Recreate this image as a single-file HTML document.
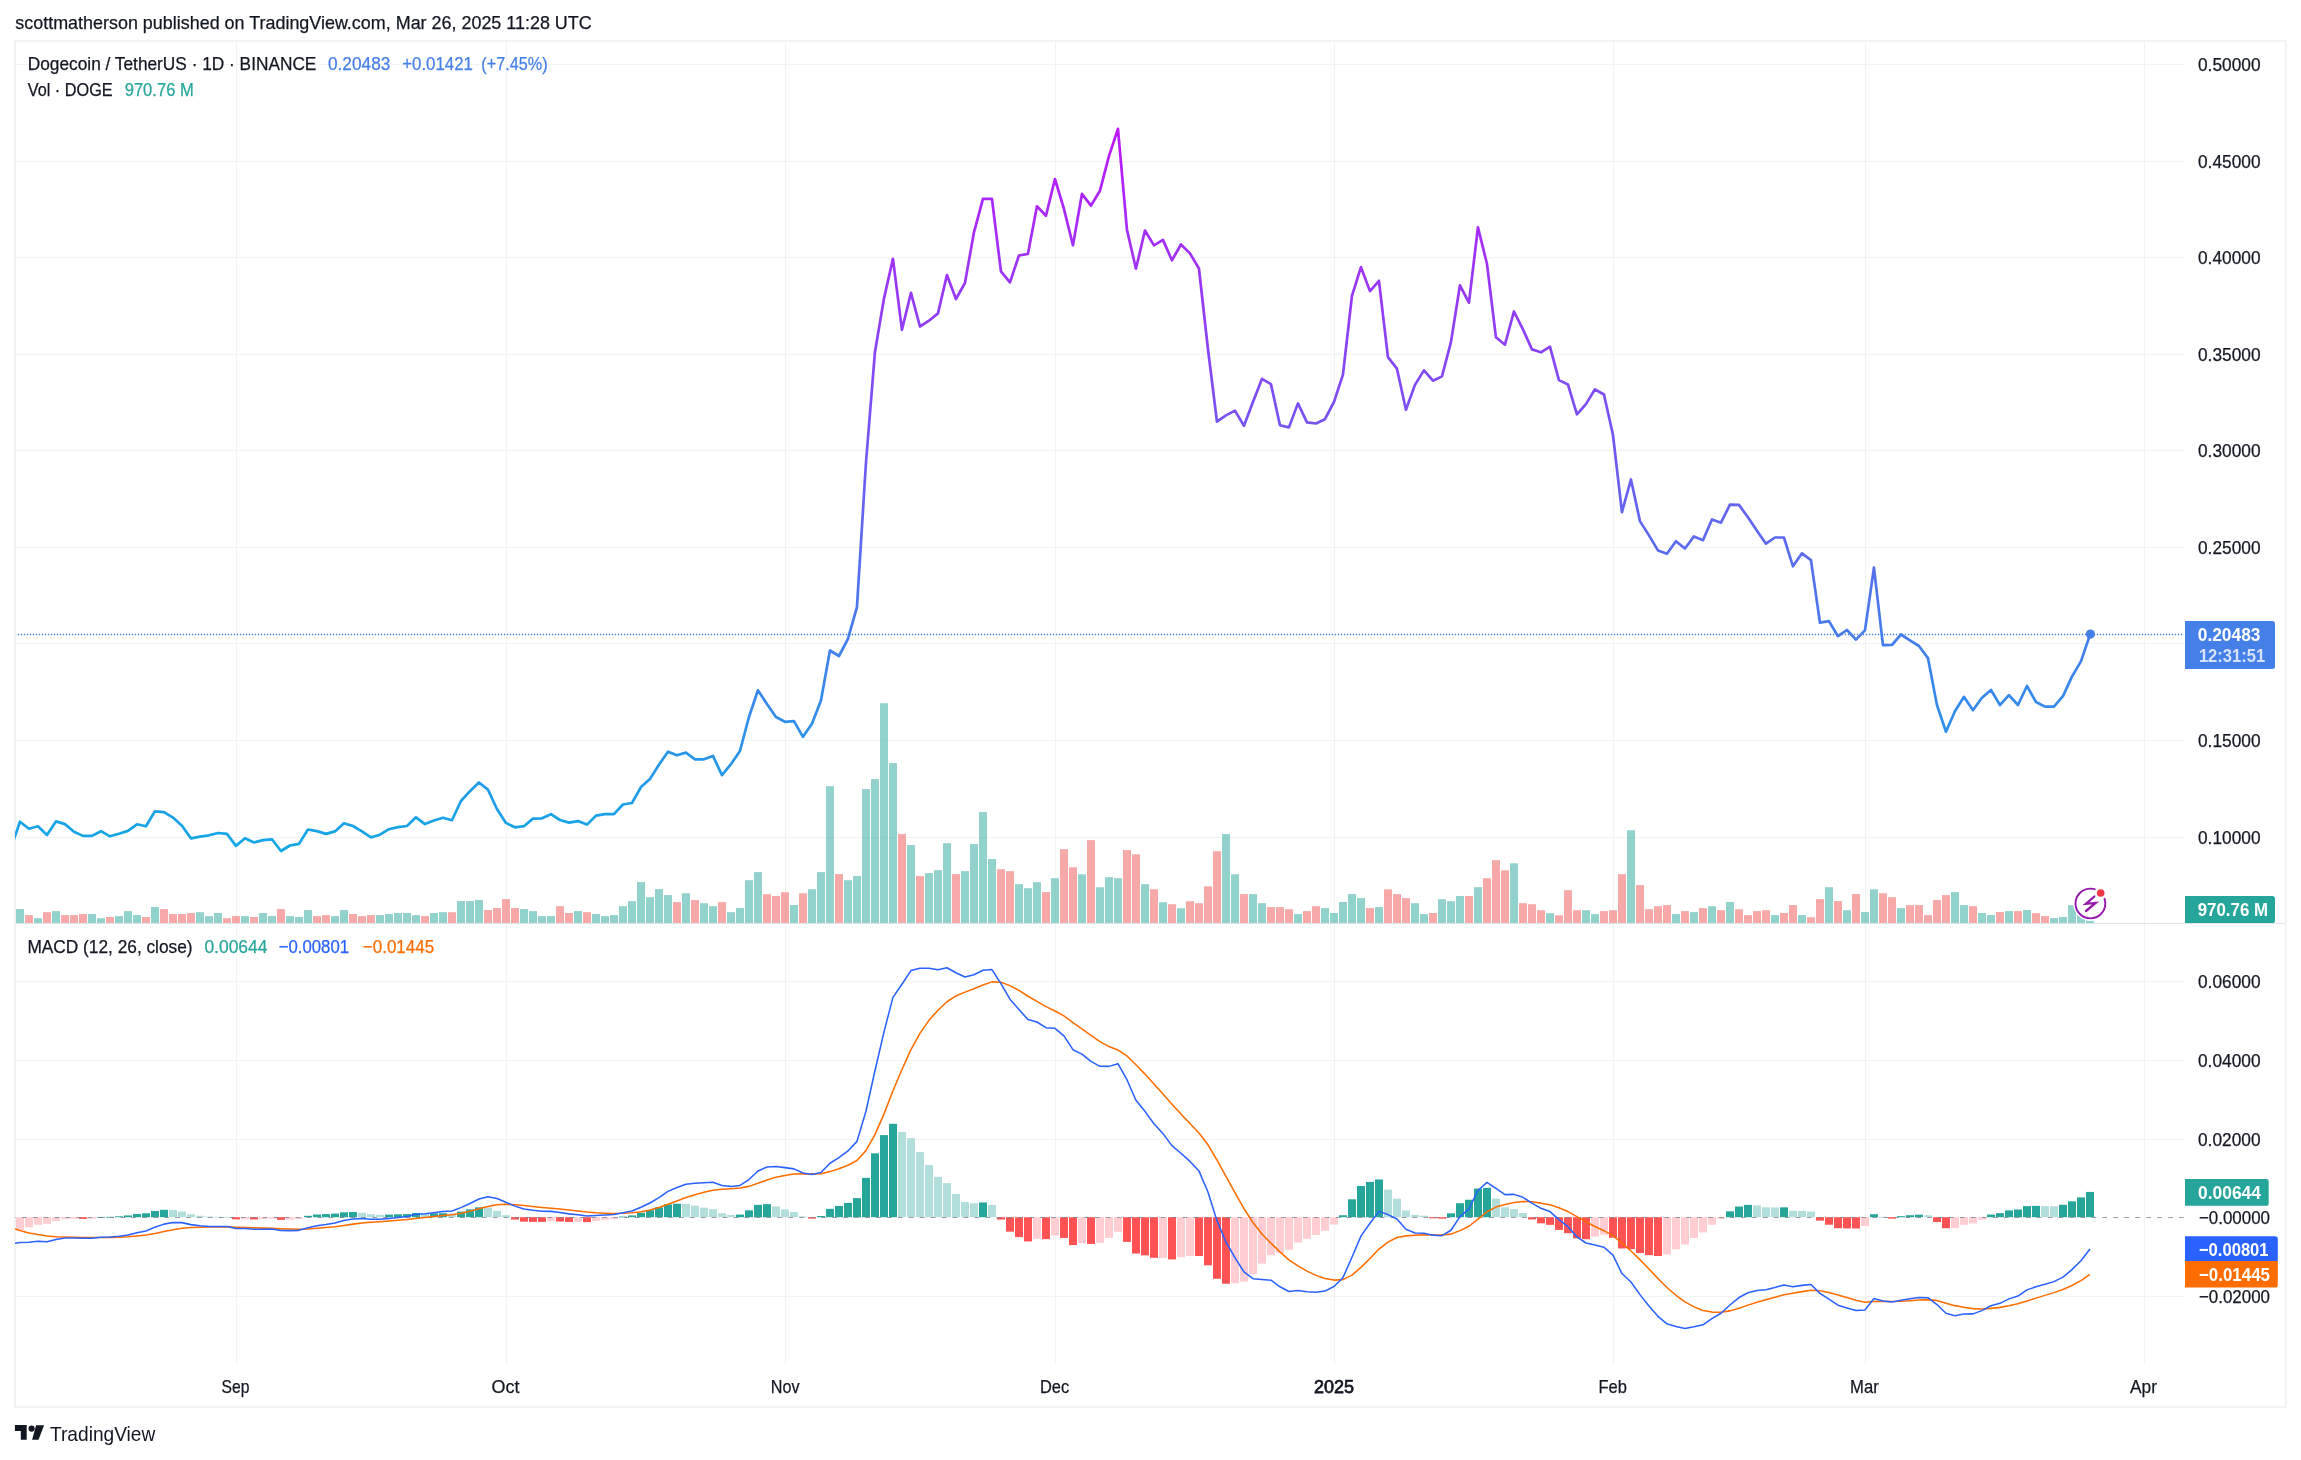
<!DOCTYPE html>
<html><head><meta charset="utf-8"><style>
html,body{margin:0;padding:0;background:#fff;width:2301px;height:1460px;overflow:hidden}
svg{display:block;will-change:transform}
text{font-family:"Liberation Sans", sans-serif;white-space:pre}
</style></head><body>
<svg width="2301" height="1460" viewBox="0 0 2301 1460">
<defs>
<linearGradient id="pg" gradientUnits="userSpaceOnUse" x1="0" y1="129" x2="0" y2="851">
<stop offset="0" stop-color="rgb(190,24,250)"/>
<stop offset="1" stop-color="rgb(18,168,230)"/>
</linearGradient>
<clipPath id="plot"><rect x="15" y="42" width="2170" height="881"/></clipPath>
<clipPath id="plot2"><rect x="15" y="924" width="2170" height="441"/></clipPath>
</defs>
<rect width="2301" height="1460" fill="#fff"/>
<rect x="15" y="41" width="2271" height="1366" fill="none" stroke="#f3f3f3" stroke-width="2"/>
<rect x="236" y="42" width="1" height="1323" fill="#f2f3f3"/>
<rect x="506" y="42" width="1" height="1323" fill="#f2f3f3"/>
<rect x="785" y="42" width="1" height="1323" fill="#f2f3f3"/>
<rect x="1055" y="42" width="1" height="1323" fill="#f2f3f3"/>
<rect x="1334" y="42" width="1" height="1323" fill="#f2f3f3"/>
<rect x="1613" y="42" width="1" height="1323" fill="#f2f3f3"/>
<rect x="1865" y="42" width="1" height="1323" fill="#f2f3f3"/>
<rect x="2144" y="42" width="1" height="1323" fill="#f2f3f3"/>
<rect x="16" y="64" width="2169" height="1" fill="#f2f3f3"/>
<rect x="16" y="161" width="2169" height="1" fill="#f2f3f3"/>
<rect x="16" y="257" width="2169" height="1" fill="#f2f3f3"/>
<rect x="16" y="354" width="2169" height="1" fill="#f2f3f3"/>
<rect x="16" y="450" width="2169" height="1" fill="#f2f3f3"/>
<rect x="16" y="547" width="2169" height="1" fill="#f2f3f3"/>
<rect x="16" y="643" width="2169" height="1" fill="#f2f3f3"/>
<rect x="16" y="740" width="2169" height="1" fill="#f2f3f3"/>
<rect x="16" y="837" width="2169" height="1" fill="#f2f3f3"/>
<rect x="16" y="981" width="2169" height="1" fill="#f2f3f3"/>
<rect x="16" y="1060" width="2169" height="1" fill="#f2f3f3"/>
<rect x="16" y="1139" width="2169" height="1" fill="#f2f3f3"/>
<rect x="16" y="1296" width="2169" height="1" fill="#f2f3f3"/>
<g clip-path="url(#plot)">
<rect x="16" y="909.1" width="8" height="13.9" fill="rgba(38,166,154,0.5)"/>
<rect x="25" y="915.1" width="8" height="7.9" fill="rgba(239,83,80,0.5)"/>
<rect x="34" y="918.2" width="8" height="4.8" fill="rgba(38,166,154,0.5)"/>
<rect x="43" y="912.2" width="8" height="10.8" fill="rgba(239,83,80,0.5)"/>
<rect x="52" y="911.1" width="8" height="11.9" fill="rgba(38,166,154,0.5)"/>
<rect x="61" y="915.1" width="8" height="7.9" fill="rgba(239,83,80,0.5)"/>
<rect x="70" y="915.1" width="8" height="7.9" fill="rgba(239,83,80,0.5)"/>
<rect x="79" y="914.0" width="8" height="9.0" fill="rgba(239,83,80,0.5)"/>
<rect x="88" y="914.0" width="8" height="9.0" fill="rgba(38,166,154,0.5)"/>
<rect x="97" y="918.2" width="8" height="4.8" fill="rgba(38,166,154,0.5)"/>
<rect x="106" y="917.0" width="8" height="6.0" fill="rgba(239,83,80,0.5)"/>
<rect x="115" y="916.1" width="8" height="6.9" fill="rgba(38,166,154,0.5)"/>
<rect x="124" y="911.1" width="8" height="11.9" fill="rgba(38,166,154,0.5)"/>
<rect x="133" y="915.1" width="8" height="7.9" fill="rgba(38,166,154,0.5)"/>
<rect x="142" y="917.0" width="8" height="6.0" fill="rgba(239,83,80,0.5)"/>
<rect x="151" y="907.0" width="8" height="16.0" fill="rgba(38,166,154,0.5)"/>
<rect x="160" y="909.1" width="8" height="13.9" fill="rgba(239,83,80,0.5)"/>
<rect x="169" y="914.0" width="8" height="9.0" fill="rgba(239,83,80,0.5)"/>
<rect x="178" y="914.0" width="8" height="9.0" fill="rgba(239,83,80,0.5)"/>
<rect x="187" y="913.0" width="8" height="10.0" fill="rgba(239,83,80,0.5)"/>
<rect x="196" y="912.2" width="8" height="10.8" fill="rgba(38,166,154,0.5)"/>
<rect x="205" y="916.1" width="8" height="6.9" fill="rgba(38,166,154,0.5)"/>
<rect x="214" y="913.0" width="8" height="10.0" fill="rgba(38,166,154,0.5)"/>
<rect x="223" y="918.2" width="8" height="4.8" fill="rgba(239,83,80,0.5)"/>
<rect x="232" y="916.1" width="8" height="6.9" fill="rgba(239,83,80,0.5)"/>
<rect x="241" y="916.1" width="8" height="6.9" fill="rgba(38,166,154,0.5)"/>
<rect x="250" y="917.0" width="8" height="6.0" fill="rgba(239,83,80,0.5)"/>
<rect x="259" y="913.0" width="8" height="10.0" fill="rgba(38,166,154,0.5)"/>
<rect x="268" y="916.1" width="8" height="6.9" fill="rgba(38,166,154,0.5)"/>
<rect x="277" y="909.1" width="8" height="13.9" fill="rgba(239,83,80,0.5)"/>
<rect x="286" y="916.1" width="8" height="6.9" fill="rgba(38,166,154,0.5)"/>
<rect x="295" y="917.0" width="8" height="6.0" fill="rgba(38,166,154,0.5)"/>
<rect x="304" y="910.1" width="8" height="12.9" fill="rgba(38,166,154,0.5)"/>
<rect x="313" y="916.1" width="8" height="6.9" fill="rgba(239,83,80,0.5)"/>
<rect x="322" y="915.1" width="8" height="7.9" fill="rgba(239,83,80,0.5)"/>
<rect x="331" y="916.1" width="8" height="6.9" fill="rgba(38,166,154,0.5)"/>
<rect x="340" y="910.1" width="8" height="12.9" fill="rgba(38,166,154,0.5)"/>
<rect x="349" y="914.0" width="8" height="9.0" fill="rgba(239,83,80,0.5)"/>
<rect x="358" y="916.1" width="8" height="6.9" fill="rgba(239,83,80,0.5)"/>
<rect x="367" y="915.1" width="8" height="7.9" fill="rgba(239,83,80,0.5)"/>
<rect x="376" y="915.1" width="8" height="7.9" fill="rgba(38,166,154,0.5)"/>
<rect x="385" y="914.0" width="8" height="9.0" fill="rgba(38,166,154,0.5)"/>
<rect x="394" y="913.0" width="8" height="10.0" fill="rgba(38,166,154,0.5)"/>
<rect x="403" y="913.0" width="8" height="10.0" fill="rgba(38,166,154,0.5)"/>
<rect x="412" y="915.1" width="8" height="7.9" fill="rgba(38,166,154,0.5)"/>
<rect x="421" y="916.1" width="8" height="6.9" fill="rgba(239,83,80,0.5)"/>
<rect x="430" y="913.0" width="8" height="10.0" fill="rgba(38,166,154,0.5)"/>
<rect x="439" y="912.2" width="8" height="10.8" fill="rgba(38,166,154,0.5)"/>
<rect x="448" y="912.2" width="8" height="10.8" fill="rgba(239,83,80,0.5)"/>
<rect x="457" y="901.1" width="8" height="21.9" fill="rgba(38,166,154,0.5)"/>
<rect x="466" y="901.1" width="8" height="21.9" fill="rgba(38,166,154,0.5)"/>
<rect x="475" y="900.0" width="8" height="23.0" fill="rgba(38,166,154,0.5)"/>
<rect x="484" y="910.1" width="8" height="12.9" fill="rgba(239,83,80,0.5)"/>
<rect x="493" y="908.0" width="8" height="15.0" fill="rgba(239,83,80,0.5)"/>
<rect x="502" y="899.1" width="8" height="23.9" fill="rgba(239,83,80,0.5)"/>
<rect x="511" y="908.0" width="8" height="15.0" fill="rgba(239,83,80,0.5)"/>
<rect x="520" y="909.1" width="8" height="13.9" fill="rgba(38,166,154,0.5)"/>
<rect x="529" y="911.1" width="8" height="11.9" fill="rgba(38,166,154,0.5)"/>
<rect x="538" y="916.1" width="8" height="6.9" fill="rgba(38,166,154,0.5)"/>
<rect x="547" y="916.1" width="8" height="6.9" fill="rgba(38,166,154,0.5)"/>
<rect x="556" y="906.2" width="8" height="16.8" fill="rgba(239,83,80,0.5)"/>
<rect x="565" y="913.0" width="8" height="10.0" fill="rgba(239,83,80,0.5)"/>
<rect x="574" y="911.1" width="8" height="11.9" fill="rgba(38,166,154,0.5)"/>
<rect x="583" y="912.2" width="8" height="10.8" fill="rgba(239,83,80,0.5)"/>
<rect x="592" y="914.0" width="8" height="9.0" fill="rgba(38,166,154,0.5)"/>
<rect x="601" y="916.1" width="8" height="6.9" fill="rgba(38,166,154,0.5)"/>
<rect x="610" y="915.1" width="8" height="7.9" fill="rgba(38,166,154,0.5)"/>
<rect x="619" y="906.2" width="8" height="16.8" fill="rgba(38,166,154,0.5)"/>
<rect x="628" y="901.1" width="8" height="21.9" fill="rgba(38,166,154,0.5)"/>
<rect x="637" y="882.1" width="8" height="40.9" fill="rgba(38,166,154,0.5)"/>
<rect x="646" y="897.2" width="8" height="25.8" fill="rgba(38,166,154,0.5)"/>
<rect x="655" y="889.1" width="8" height="33.9" fill="rgba(38,166,154,0.5)"/>
<rect x="664" y="895.1" width="8" height="27.9" fill="rgba(38,166,154,0.5)"/>
<rect x="673" y="902.1" width="8" height="20.9" fill="rgba(239,83,80,0.5)"/>
<rect x="682" y="893.2" width="8" height="29.8" fill="rgba(38,166,154,0.5)"/>
<rect x="691" y="900.1" width="8" height="22.9" fill="rgba(239,83,80,0.5)"/>
<rect x="700" y="903.2" width="8" height="19.8" fill="rgba(38,166,154,0.5)"/>
<rect x="709" y="906.2" width="8" height="16.8" fill="rgba(38,166,154,0.5)"/>
<rect x="718" y="902.1" width="8" height="20.9" fill="rgba(239,83,80,0.5)"/>
<rect x="727" y="912.2" width="8" height="10.8" fill="rgba(38,166,154,0.5)"/>
<rect x="736" y="908.0" width="8" height="15.0" fill="rgba(38,166,154,0.5)"/>
<rect x="745" y="880.2" width="8" height="42.8" fill="rgba(38,166,154,0.5)"/>
<rect x="754" y="872.1" width="8" height="50.9" fill="rgba(38,166,154,0.5)"/>
<rect x="763" y="894.2" width="8" height="28.8" fill="rgba(239,83,80,0.5)"/>
<rect x="772" y="896.0" width="8" height="27.0" fill="rgba(239,83,80,0.5)"/>
<rect x="781" y="892.2" width="8" height="30.8" fill="rgba(239,83,80,0.5)"/>
<rect x="790" y="905.0" width="8" height="18.0" fill="rgba(38,166,154,0.5)"/>
<rect x="799" y="893.2" width="8" height="29.8" fill="rgba(239,83,80,0.5)"/>
<rect x="808" y="889.2" width="8" height="33.8" fill="rgba(38,166,154,0.5)"/>
<rect x="817" y="872.1" width="8" height="50.9" fill="rgba(38,166,154,0.5)"/>
<rect x="826" y="786.2" width="8" height="136.8" fill="rgba(38,166,154,0.5)"/>
<rect x="835" y="874.1" width="8" height="48.9" fill="rgba(239,83,80,0.5)"/>
<rect x="844" y="880.2" width="8" height="42.8" fill="rgba(38,166,154,0.5)"/>
<rect x="853" y="876.1" width="8" height="46.9" fill="rgba(38,166,154,0.5)"/>
<rect x="862" y="789.1" width="8" height="133.9" fill="rgba(38,166,154,0.5)"/>
<rect x="871" y="779.1" width="8" height="143.9" fill="rgba(38,166,154,0.5)"/>
<rect x="880" y="703.2" width="8" height="219.8" fill="rgba(38,166,154,0.5)"/>
<rect x="889" y="763.1" width="8" height="159.9" fill="rgba(38,166,154,0.5)"/>
<rect x="898" y="834.1" width="8" height="88.9" fill="rgba(239,83,80,0.5)"/>
<rect x="907" y="845.0" width="8" height="78.0" fill="rgba(38,166,154,0.5)"/>
<rect x="916" y="876.1" width="8" height="46.9" fill="rgba(239,83,80,0.5)"/>
<rect x="925" y="873.1" width="8" height="49.9" fill="rgba(38,166,154,0.5)"/>
<rect x="934" y="870.1" width="8" height="52.9" fill="rgba(38,166,154,0.5)"/>
<rect x="943" y="843.2" width="8" height="79.8" fill="rgba(38,166,154,0.5)"/>
<rect x="952" y="874.1" width="8" height="48.9" fill="rgba(239,83,80,0.5)"/>
<rect x="961" y="871.1" width="8" height="51.9" fill="rgba(38,166,154,0.5)"/>
<rect x="970" y="844.0" width="8" height="79.0" fill="rgba(38,166,154,0.5)"/>
<rect x="979" y="812.1" width="8" height="110.9" fill="rgba(38,166,154,0.5)"/>
<rect x="988" y="859.0" width="8" height="64.0" fill="rgba(38,166,154,0.5)"/>
<rect x="997" y="869.2" width="8" height="53.8" fill="rgba(239,83,80,0.5)"/>
<rect x="1006" y="871.2" width="8" height="51.8" fill="rgba(239,83,80,0.5)"/>
<rect x="1015" y="884.2" width="8" height="38.8" fill="rgba(38,166,154,0.5)"/>
<rect x="1024" y="888.2" width="8" height="34.8" fill="rgba(38,166,154,0.5)"/>
<rect x="1033" y="882.2" width="8" height="40.8" fill="rgba(38,166,154,0.5)"/>
<rect x="1042" y="892.1" width="8" height="30.9" fill="rgba(239,83,80,0.5)"/>
<rect x="1051" y="878.2" width="8" height="44.8" fill="rgba(38,166,154,0.5)"/>
<rect x="1060" y="849.2" width="8" height="73.8" fill="rgba(239,83,80,0.5)"/>
<rect x="1069" y="867.3" width="8" height="55.7" fill="rgba(239,83,80,0.5)"/>
<rect x="1078" y="874.3" width="8" height="48.7" fill="rgba(38,166,154,0.5)"/>
<rect x="1087" y="840.1" width="8" height="82.9" fill="rgba(239,83,80,0.5)"/>
<rect x="1096" y="887.3" width="8" height="35.7" fill="rgba(38,166,154,0.5)"/>
<rect x="1105" y="877.2" width="8" height="45.8" fill="rgba(38,166,154,0.5)"/>
<rect x="1114" y="878.2" width="8" height="44.8" fill="rgba(38,166,154,0.5)"/>
<rect x="1123" y="850.1" width="8" height="72.9" fill="rgba(239,83,80,0.5)"/>
<rect x="1132" y="854.3" width="8" height="68.7" fill="rgba(239,83,80,0.5)"/>
<rect x="1141" y="884.2" width="8" height="38.8" fill="rgba(38,166,154,0.5)"/>
<rect x="1150" y="889.3" width="8" height="33.7" fill="rgba(239,83,80,0.5)"/>
<rect x="1159" y="902.3" width="8" height="20.7" fill="rgba(38,166,154,0.5)"/>
<rect x="1168" y="904.2" width="8" height="18.8" fill="rgba(239,83,80,0.5)"/>
<rect x="1177" y="908.3" width="8" height="14.7" fill="rgba(38,166,154,0.5)"/>
<rect x="1186" y="901.2" width="8" height="21.8" fill="rgba(239,83,80,0.5)"/>
<rect x="1195" y="903.2" width="8" height="19.8" fill="rgba(239,83,80,0.5)"/>
<rect x="1204" y="886.3" width="8" height="36.7" fill="rgba(239,83,80,0.5)"/>
<rect x="1213" y="851.2" width="8" height="71.8" fill="rgba(239,83,80,0.5)"/>
<rect x="1222" y="834.1" width="8" height="88.9" fill="rgba(38,166,154,0.5)"/>
<rect x="1231" y="874.3" width="8" height="48.7" fill="rgba(38,166,154,0.5)"/>
<rect x="1240" y="894.1" width="8" height="28.9" fill="rgba(239,83,80,0.5)"/>
<rect x="1249" y="894.1" width="8" height="28.9" fill="rgba(38,166,154,0.5)"/>
<rect x="1258" y="903.2" width="8" height="19.8" fill="rgba(38,166,154,0.5)"/>
<rect x="1267" y="907.1" width="8" height="15.9" fill="rgba(239,83,80,0.5)"/>
<rect x="1276" y="907.1" width="8" height="15.9" fill="rgba(239,83,80,0.5)"/>
<rect x="1285" y="909.2" width="8" height="13.8" fill="rgba(239,83,80,0.5)"/>
<rect x="1294" y="914.1" width="8" height="8.9" fill="rgba(38,166,154,0.5)"/>
<rect x="1303" y="911.1" width="8" height="11.9" fill="rgba(239,83,80,0.5)"/>
<rect x="1312" y="906.2" width="8" height="16.8" fill="rgba(239,83,80,0.5)"/>
<rect x="1321" y="908.1" width="8" height="14.9" fill="rgba(38,166,154,0.5)"/>
<rect x="1330" y="913.0" width="8" height="10.0" fill="rgba(38,166,154,0.5)"/>
<rect x="1339" y="902.0" width="8" height="21.0" fill="rgba(38,166,154,0.5)"/>
<rect x="1348" y="894.1" width="8" height="28.9" fill="rgba(38,166,154,0.5)"/>
<rect x="1357" y="898.1" width="8" height="24.9" fill="rgba(38,166,154,0.5)"/>
<rect x="1366" y="908.1" width="8" height="14.9" fill="rgba(239,83,80,0.5)"/>
<rect x="1375" y="907.1" width="8" height="15.9" fill="rgba(38,166,154,0.5)"/>
<rect x="1384" y="889.3" width="8" height="33.7" fill="rgba(239,83,80,0.5)"/>
<rect x="1393" y="894.1" width="8" height="28.9" fill="rgba(239,83,80,0.5)"/>
<rect x="1402" y="898.1" width="8" height="24.9" fill="rgba(239,83,80,0.5)"/>
<rect x="1411" y="903.2" width="8" height="19.8" fill="rgba(38,166,154,0.5)"/>
<rect x="1420" y="914.1" width="8" height="8.9" fill="rgba(38,166,154,0.5)"/>
<rect x="1429" y="913.0" width="8" height="10.0" fill="rgba(239,83,80,0.5)"/>
<rect x="1438" y="899.2" width="8" height="23.8" fill="rgba(38,166,154,0.5)"/>
<rect x="1447" y="901.2" width="8" height="21.8" fill="rgba(38,166,154,0.5)"/>
<rect x="1456" y="896.0" width="8" height="27.0" fill="rgba(38,166,154,0.5)"/>
<rect x="1465" y="896.0" width="8" height="27.0" fill="rgba(239,83,80,0.5)"/>
<rect x="1474" y="887.2" width="8" height="35.8" fill="rgba(38,166,154,0.5)"/>
<rect x="1483" y="878.2" width="8" height="44.8" fill="rgba(239,83,80,0.5)"/>
<rect x="1492" y="860.2" width="8" height="62.8" fill="rgba(239,83,80,0.5)"/>
<rect x="1501" y="870.3" width="8" height="52.7" fill="rgba(239,83,80,0.5)"/>
<rect x="1510" y="863.3" width="8" height="59.7" fill="rgba(38,166,154,0.5)"/>
<rect x="1519" y="903.2" width="8" height="19.8" fill="rgba(239,83,80,0.5)"/>
<rect x="1528" y="904.2" width="8" height="18.8" fill="rgba(239,83,80,0.5)"/>
<rect x="1537" y="910.2" width="8" height="12.8" fill="rgba(239,83,80,0.5)"/>
<rect x="1546" y="913.2" width="8" height="9.8" fill="rgba(38,166,154,0.5)"/>
<rect x="1555" y="915.3" width="8" height="7.7" fill="rgba(239,83,80,0.5)"/>
<rect x="1564" y="890.2" width="8" height="32.8" fill="rgba(239,83,80,0.5)"/>
<rect x="1573" y="910.2" width="8" height="12.8" fill="rgba(239,83,80,0.5)"/>
<rect x="1582" y="910.2" width="8" height="12.8" fill="rgba(38,166,154,0.5)"/>
<rect x="1591" y="914.1" width="8" height="8.9" fill="rgba(38,166,154,0.5)"/>
<rect x="1600" y="911.1" width="8" height="11.9" fill="rgba(239,83,80,0.5)"/>
<rect x="1609" y="910.2" width="8" height="12.8" fill="rgba(239,83,80,0.5)"/>
<rect x="1618" y="874.2" width="8" height="48.8" fill="rgba(239,83,80,0.5)"/>
<rect x="1627" y="830.2" width="8" height="92.8" fill="rgba(38,166,154,0.5)"/>
<rect x="1636" y="885.1" width="8" height="37.9" fill="rgba(239,83,80,0.5)"/>
<rect x="1645" y="909.2" width="8" height="13.8" fill="rgba(239,83,80,0.5)"/>
<rect x="1654" y="906.2" width="8" height="16.8" fill="rgba(239,83,80,0.5)"/>
<rect x="1663" y="905.1" width="8" height="17.9" fill="rgba(239,83,80,0.5)"/>
<rect x="1672" y="914.1" width="8" height="8.9" fill="rgba(38,166,154,0.5)"/>
<rect x="1681" y="911.1" width="8" height="11.9" fill="rgba(239,83,80,0.5)"/>
<rect x="1690" y="912.1" width="8" height="10.9" fill="rgba(38,166,154,0.5)"/>
<rect x="1699" y="908.1" width="8" height="14.9" fill="rgba(239,83,80,0.5)"/>
<rect x="1708" y="906.2" width="8" height="16.8" fill="rgba(38,166,154,0.5)"/>
<rect x="1717" y="910.2" width="8" height="12.8" fill="rgba(239,83,80,0.5)"/>
<rect x="1726" y="902.0" width="8" height="21.0" fill="rgba(38,166,154,0.5)"/>
<rect x="1735" y="909.2" width="8" height="13.8" fill="rgba(239,83,80,0.5)"/>
<rect x="1744" y="915.1" width="8" height="7.9" fill="rgba(239,83,80,0.5)"/>
<rect x="1753" y="911.1" width="8" height="11.9" fill="rgba(239,83,80,0.5)"/>
<rect x="1762" y="910.2" width="8" height="12.8" fill="rgba(239,83,80,0.5)"/>
<rect x="1771" y="915.1" width="8" height="7.9" fill="rgba(38,166,154,0.5)"/>
<rect x="1780" y="913.0" width="8" height="10.0" fill="rgba(239,83,80,0.5)"/>
<rect x="1789" y="905.1" width="8" height="17.9" fill="rgba(239,83,80,0.5)"/>
<rect x="1798" y="915.1" width="8" height="7.9" fill="rgba(38,166,154,0.5)"/>
<rect x="1807" y="917.2" width="8" height="5.8" fill="rgba(239,83,80,0.5)"/>
<rect x="1816" y="899.1" width="8" height="23.9" fill="rgba(239,83,80,0.5)"/>
<rect x="1825" y="887.2" width="8" height="35.8" fill="rgba(38,166,154,0.5)"/>
<rect x="1834" y="901.1" width="8" height="21.9" fill="rgba(239,83,80,0.5)"/>
<rect x="1843" y="910.2" width="8" height="12.8" fill="rgba(38,166,154,0.5)"/>
<rect x="1852" y="894.1" width="8" height="28.9" fill="rgba(239,83,80,0.5)"/>
<rect x="1861" y="912.1" width="8" height="10.9" fill="rgba(38,166,154,0.5)"/>
<rect x="1870" y="889.3" width="8" height="33.7" fill="rgba(38,166,154,0.5)"/>
<rect x="1879" y="893.2" width="8" height="29.8" fill="rgba(239,83,80,0.5)"/>
<rect x="1888" y="897.2" width="8" height="25.8" fill="rgba(239,83,80,0.5)"/>
<rect x="1897" y="908.1" width="8" height="14.9" fill="rgba(38,166,154,0.5)"/>
<rect x="1906" y="905.1" width="8" height="17.9" fill="rgba(239,83,80,0.5)"/>
<rect x="1915" y="905.1" width="8" height="17.9" fill="rgba(239,83,80,0.5)"/>
<rect x="1924" y="915.1" width="8" height="7.9" fill="rgba(239,83,80,0.5)"/>
<rect x="1933" y="900.1" width="8" height="22.9" fill="rgba(239,83,80,0.5)"/>
<rect x="1942" y="895.1" width="8" height="27.9" fill="rgba(239,83,80,0.5)"/>
<rect x="1951" y="892.1" width="8" height="30.9" fill="rgba(38,166,154,0.5)"/>
<rect x="1960" y="905.1" width="8" height="17.9" fill="rgba(38,166,154,0.5)"/>
<rect x="1969" y="906.2" width="8" height="16.8" fill="rgba(239,83,80,0.5)"/>
<rect x="1978" y="913.0" width="8" height="10.0" fill="rgba(38,166,154,0.5)"/>
<rect x="1987" y="915.0" width="8" height="8.0" fill="rgba(38,166,154,0.5)"/>
<rect x="1996" y="912.0" width="8" height="11.0" fill="rgba(239,83,80,0.5)"/>
<rect x="2005" y="911.1" width="8" height="11.9" fill="rgba(38,166,154,0.5)"/>
<rect x="2014" y="911.1" width="8" height="11.9" fill="rgba(239,83,80,0.5)"/>
<rect x="2023" y="910.0" width="8" height="13.0" fill="rgba(38,166,154,0.5)"/>
<rect x="2032" y="913.1" width="8" height="9.9" fill="rgba(239,83,80,0.5)"/>
<rect x="2041" y="916.1" width="8" height="6.9" fill="rgba(239,83,80,0.5)"/>
<rect x="2050" y="918.1" width="8" height="4.9" fill="rgba(38,166,154,0.5)"/>
<rect x="2059" y="917.0" width="8" height="6.0" fill="rgba(38,166,154,0.5)"/>
<rect x="2068" y="905.2" width="8" height="17.8" fill="rgba(38,166,154,0.5)"/>
<rect x="2077" y="915.0" width="8" height="8.0" fill="rgba(38,166,154,0.5)"/>
<rect x="2086" y="920.5" width="8" height="2.5" fill="rgba(38,166,154,0.5)"/>
<line x1="17.85" y1="634.5" x2="2184" y2="634.5" stroke="#4580e8" stroke-width="1.3" stroke-dasharray="1.3 1.7"/>
<polyline points="10.95,848.00 19.95,821.70 28.95,828.70 37.95,826.30 46.95,835.00 55.95,821.40 64.95,824.10 73.95,831.70 82.95,835.90 91.95,835.90 100.95,831.20 109.95,836.30 118.95,833.70 127.95,830.90 136.95,824.30 145.95,826.30 154.95,811.30 163.95,812.20 172.95,817.60 181.95,825.80 190.95,838.30 199.95,836.60 208.95,835.30 217.95,833.00 226.95,833.90 235.95,845.90 244.95,838.30 253.95,842.50 262.95,840.10 271.95,839.30 280.95,851.00 289.95,845.50 298.95,843.90 307.95,829.50 316.95,831.10 325.95,833.90 334.95,831.40 343.95,823.30 352.95,826.00 361.95,831.40 370.95,837.40 379.95,834.70 388.95,829.20 397.95,827.10 406.95,826.00 415.95,817.30 424.95,824.10 433.95,820.50 442.95,817.80 451.95,820.20 460.95,801.00 469.95,791.20 478.95,782.50 487.95,789.60 496.95,809.00 505.95,822.90 514.95,827.30 523.95,826.20 532.95,818.60 541.95,818.30 550.95,814.20 559.95,820.00 568.95,822.60 577.95,821.10 586.95,824.60 595.95,815.70 604.95,814.20 613.95,814.20 622.95,804.50 631.95,803.00 640.95,787.10 649.95,778.90 658.95,764.80 667.95,751.70 676.95,755.20 685.95,752.60 694.95,759.30 703.95,759.30 712.95,755.90 721.95,775.10 730.95,764.20 739.95,751.00 748.95,717.00 757.95,690.30 766.95,704.00 775.95,717.00 784.95,721.80 793.95,721.10 802.95,736.80 811.95,723.80 820.95,700.50 829.95,650.50 838.95,656.00 847.95,638.90 856.95,607.20 865.95,463.00 874.95,352.00 883.95,298.60 892.95,258.80 901.95,329.80 910.95,292.90 919.95,326.50 928.95,320.70 937.95,313.40 946.95,275.00 955.95,299.00 964.95,283.00 973.95,232.30 982.95,198.90 991.95,198.90 1000.95,271.40 1009.95,282.40 1018.95,255.50 1027.95,253.80 1036.95,206.30 1045.95,215.70 1054.95,179.00 1063.95,208.90 1072.95,245.30 1081.95,193.90 1090.95,205.60 1099.95,190.70 1108.95,156.20 1117.95,128.90 1126.95,229.70 1135.95,268.70 1144.95,230.50 1153.95,245.40 1162.95,239.90 1171.95,260.30 1180.95,244.50 1189.95,253.40 1198.95,268.50 1207.95,349.00 1216.95,421.70 1225.95,415.40 1234.95,410.60 1243.95,425.70 1252.95,402.00 1261.95,378.90 1270.95,384.10 1279.95,425.20 1288.95,427.40 1297.95,403.40 1306.95,422.30 1315.95,423.50 1324.95,419.20 1333.95,402.00 1342.95,374.70 1351.95,295.90 1360.95,267.10 1369.95,291.10 1378.95,280.80 1387.95,357.20 1396.95,368.70 1405.95,409.80 1414.95,384.90 1423.95,370.40 1432.95,380.70 1441.95,376.40 1450.95,342.10 1459.95,285.30 1468.95,302.70 1477.95,227.40 1486.95,263.70 1495.95,337.30 1504.95,344.70 1513.95,311.50 1522.95,329.30 1531.95,349.40 1540.95,352.30 1549.95,346.60 1558.95,380.10 1567.95,384.50 1576.95,414.30 1585.95,404.10 1594.95,389.30 1603.95,394.50 1612.95,434.80 1621.95,512.10 1630.95,479.50 1639.95,521.10 1648.95,535.40 1657.95,550.40 1666.95,553.70 1675.95,541.20 1684.95,548.50 1693.95,536.40 1702.95,540.20 1711.95,519.50 1720.95,522.70 1729.95,504.70 1738.95,504.90 1747.95,517.30 1756.95,530.70 1765.95,543.70 1774.95,537.50 1783.95,537.50 1792.95,566.30 1801.95,553.30 1810.95,560.10 1819.95,622.70 1828.95,621.10 1837.95,636.20 1846.95,630.00 1855.95,639.60 1864.95,630.40 1873.95,567.70 1882.95,645.10 1891.95,645.00 1900.95,634.50 1909.95,640.30 1918.95,646.00 1927.95,658.10 1936.95,705.00 1945.95,731.70 1954.95,711.20 1963.95,696.80 1972.95,710.20 1981.95,697.80 1990.95,689.90 1999.95,705.00 2008.95,695.10 2017.95,705.00 2026.95,686.00 2035.95,702.00 2044.95,706.60 2053.95,706.60 2062.95,696.10 2071.95,676.60 2080.95,661.40 2089.95,634.90" fill="none" stroke="url(#pg)" stroke-width="2.7" stroke-linejoin="round" stroke-linecap="round"/>
<circle cx="2090.4" cy="634.1" r="4.6" fill="#4580e8"/>
</g>
<rect x="16" y="923" width="2269" height="1" fill="#e0e3eb"/>
<g clip-path="url(#plot2)">
<rect x="16" y="1217.20" width="8" height="12.76" fill="#ffcdd2"/>
<rect x="25" y="1217.20" width="8" height="10.17" fill="#ffcdd2"/>
<rect x="34" y="1217.20" width="8" height="7.60" fill="#ffcdd2"/>
<rect x="43" y="1217.20" width="8" height="6.62" fill="#ffcdd2"/>
<rect x="52" y="1217.20" width="8" height="3.76" fill="#ffcdd2"/>
<rect x="61" y="1217.20" width="8" height="1.99" fill="#ffcdd2"/>
<rect x="70" y="1217.20" width="8" height="1.63" fill="#ffcdd2"/>
<rect x="79" y="1217.20" width="8" height="1.73" fill="#ff5252"/>
<rect x="88" y="1217.20" width="8" height="1.57" fill="#ffcdd2"/>
<rect x="97" y="1216.94" width="8" height="0.80" fill="#26a69a"/>
<rect x="106" y="1216.84" width="8" height="0.80" fill="#26a69a"/>
<rect x="115" y="1216.28" width="8" height="0.92" fill="#26a69a"/>
<rect x="124" y="1215.43" width="8" height="1.77" fill="#26a69a"/>
<rect x="133" y="1213.95" width="8" height="3.25" fill="#26a69a"/>
<rect x="142" y="1213.28" width="8" height="3.92" fill="#26a69a"/>
<rect x="151" y="1210.95" width="8" height="6.25" fill="#26a69a"/>
<rect x="160" y="1209.79" width="8" height="7.41" fill="#26a69a"/>
<rect x="169" y="1210.02" width="8" height="7.18" fill="#b2dfdb"/>
<rect x="178" y="1211.50" width="8" height="5.70" fill="#b2dfdb"/>
<rect x="187" y="1214.25" width="8" height="2.95" fill="#b2dfdb"/>
<rect x="196" y="1215.81" width="8" height="1.39" fill="#b2dfdb"/>
<rect x="205" y="1216.60" width="8" height="0.80" fill="#b2dfdb"/>
<rect x="214" y="1216.74" width="8" height="0.80" fill="#b2dfdb"/>
<rect x="223" y="1216.88" width="8" height="0.80" fill="#b2dfdb"/>
<rect x="232" y="1217.20" width="8" height="2.16" fill="#ff5252"/>
<rect x="241" y="1217.20" width="8" height="2.00" fill="#ffcdd2"/>
<rect x="250" y="1217.20" width="8" height="2.30" fill="#ff5252"/>
<rect x="259" y="1217.20" width="8" height="2.00" fill="#ffcdd2"/>
<rect x="268" y="1217.20" width="8" height="1.55" fill="#ffcdd2"/>
<rect x="277" y="1217.20" width="8" height="2.66" fill="#ff5252"/>
<rect x="286" y="1217.20" width="8" height="2.44" fill="#ffcdd2"/>
<rect x="295" y="1217.20" width="8" height="1.91" fill="#ffcdd2"/>
<rect x="304" y="1215.83" width="8" height="1.37" fill="#26a69a"/>
<rect x="313" y="1214.52" width="8" height="2.68" fill="#26a69a"/>
<rect x="322" y="1214.10" width="8" height="3.10" fill="#26a69a"/>
<rect x="331" y="1213.57" width="8" height="3.63" fill="#26a69a"/>
<rect x="340" y="1212.30" width="8" height="4.90" fill="#26a69a"/>
<rect x="349" y="1212.03" width="8" height="5.17" fill="#26a69a"/>
<rect x="358" y="1212.77" width="8" height="4.43" fill="#b2dfdb"/>
<rect x="367" y="1214.20" width="8" height="3.00" fill="#b2dfdb"/>
<rect x="376" y="1214.85" width="8" height="2.35" fill="#b2dfdb"/>
<rect x="385" y="1214.63" width="8" height="2.57" fill="#26a69a"/>
<rect x="394" y="1214.31" width="8" height="2.89" fill="#26a69a"/>
<rect x="403" y="1214.10" width="8" height="3.10" fill="#26a69a"/>
<rect x="412" y="1212.97" width="8" height="4.23" fill="#26a69a"/>
<rect x="421" y="1213.36" width="8" height="3.84" fill="#b2dfdb"/>
<rect x="430" y="1213.33" width="8" height="3.87" fill="#26a69a"/>
<rect x="439" y="1213.17" width="8" height="4.03" fill="#26a69a"/>
<rect x="448" y="1213.61" width="8" height="3.59" fill="#b2dfdb"/>
<rect x="457" y="1211.59" width="8" height="5.61" fill="#26a69a"/>
<rect x="466" y="1209.38" width="8" height="7.82" fill="#26a69a"/>
<rect x="475" y="1207.33" width="8" height="9.87" fill="#26a69a"/>
<rect x="484" y="1207.56" width="8" height="9.64" fill="#b2dfdb"/>
<rect x="493" y="1210.84" width="8" height="6.36" fill="#b2dfdb"/>
<rect x="502" y="1215.15" width="8" height="2.05" fill="#b2dfdb"/>
<rect x="511" y="1217.20" width="8" height="2.34" fill="#ff5252"/>
<rect x="520" y="1217.20" width="8" height="4.43" fill="#ff5252"/>
<rect x="529" y="1217.20" width="8" height="4.67" fill="#ff5252"/>
<rect x="538" y="1217.20" width="8" height="4.68" fill="#ff5252"/>
<rect x="547" y="1217.20" width="8" height="4.05" fill="#ffcdd2"/>
<rect x="556" y="1217.20" width="8" height="4.32" fill="#ff5252"/>
<rect x="565" y="1217.20" width="8" height="4.73" fill="#ff5252"/>
<rect x="574" y="1217.20" width="8" height="4.65" fill="#ffcdd2"/>
<rect x="583" y="1217.20" width="8" height="4.92" fill="#ff5252"/>
<rect x="592" y="1217.20" width="8" height="3.76" fill="#ffcdd2"/>
<rect x="601" y="1217.20" width="8" height="2.73" fill="#ffcdd2"/>
<rect x="610" y="1217.20" width="8" height="2.03" fill="#ffcdd2"/>
<rect x="619" y="1216.60" width="8" height="0.80" fill="#26a69a"/>
<rect x="628" y="1215.39" width="8" height="1.81" fill="#26a69a"/>
<rect x="637" y="1212.69" width="8" height="4.51" fill="#26a69a"/>
<rect x="646" y="1210.22" width="8" height="6.98" fill="#26a69a"/>
<rect x="655" y="1207.27" width="8" height="9.93" fill="#26a69a"/>
<rect x="664" y="1204.32" width="8" height="12.88" fill="#26a69a"/>
<rect x="673" y="1203.72" width="8" height="13.48" fill="#26a69a"/>
<rect x="682" y="1203.86" width="8" height="13.34" fill="#b2dfdb"/>
<rect x="691" y="1205.70" width="8" height="11.50" fill="#b2dfdb"/>
<rect x="700" y="1207.66" width="8" height="9.54" fill="#b2dfdb"/>
<rect x="709" y="1209.17" width="8" height="8.03" fill="#b2dfdb"/>
<rect x="718" y="1213.29" width="8" height="3.91" fill="#b2dfdb"/>
<rect x="727" y="1214.91" width="8" height="2.29" fill="#b2dfdb"/>
<rect x="736" y="1214.58" width="8" height="2.62" fill="#26a69a"/>
<rect x="745" y="1210.35" width="8" height="6.85" fill="#26a69a"/>
<rect x="754" y="1204.86" width="8" height="12.34" fill="#26a69a"/>
<rect x="763" y="1204.16" width="8" height="13.04" fill="#26a69a"/>
<rect x="772" y="1206.44" width="8" height="10.76" fill="#b2dfdb"/>
<rect x="781" y="1209.42" width="8" height="7.78" fill="#b2dfdb"/>
<rect x="790" y="1211.99" width="8" height="5.21" fill="#b2dfdb"/>
<rect x="799" y="1216.30" width="8" height="0.90" fill="#b2dfdb"/>
<rect x="808" y="1217.20" width="8" height="1.46" fill="#ff5252"/>
<rect x="817" y="1216.00" width="8" height="1.20" fill="#26a69a"/>
<rect x="826" y="1208.85" width="8" height="8.35" fill="#26a69a"/>
<rect x="835" y="1205.93" width="8" height="11.27" fill="#26a69a"/>
<rect x="844" y="1202.91" width="8" height="14.29" fill="#26a69a"/>
<rect x="853" y="1198.11" width="8" height="19.09" fill="#26a69a"/>
<rect x="862" y="1177.83" width="8" height="39.37" fill="#26a69a"/>
<rect x="871" y="1153.34" width="8" height="63.86" fill="#26a69a"/>
<rect x="880" y="1135.13" width="8" height="82.07" fill="#26a69a"/>
<rect x="889" y="1123.77" width="8" height="93.43" fill="#26a69a"/>
<rect x="898" y="1131.96" width="8" height="85.24" fill="#b2dfdb"/>
<rect x="907" y="1138.09" width="8" height="79.11" fill="#b2dfdb"/>
<rect x="916" y="1151.99" width="8" height="65.21" fill="#b2dfdb"/>
<rect x="925" y="1165.04" width="8" height="52.16" fill="#b2dfdb"/>
<rect x="934" y="1176.80" width="8" height="40.40" fill="#b2dfdb"/>
<rect x="943" y="1183.17" width="8" height="34.03" fill="#b2dfdb"/>
<rect x="952" y="1194.04" width="8" height="23.16" fill="#b2dfdb"/>
<rect x="961" y="1202.00" width="8" height="15.20" fill="#b2dfdb"/>
<rect x="970" y="1203.23" width="8" height="13.97" fill="#b2dfdb"/>
<rect x="979" y="1202.47" width="8" height="14.73" fill="#26a69a"/>
<rect x="988" y="1204.88" width="8" height="12.32" fill="#b2dfdb"/>
<rect x="997" y="1217.20" width="8" height="2.33" fill="#ff5252"/>
<rect x="1006" y="1217.20" width="8" height="14.44" fill="#ff5252"/>
<rect x="1015" y="1217.20" width="8" height="19.93" fill="#ff5252"/>
<rect x="1024" y="1217.20" width="8" height="24.22" fill="#ff5252"/>
<rect x="1033" y="1217.20" width="8" height="21.52" fill="#ffcdd2"/>
<rect x="1042" y="1217.20" width="8" height="21.93" fill="#ff5252"/>
<rect x="1051" y="1217.20" width="8" height="18.23" fill="#ffcdd2"/>
<rect x="1060" y="1217.20" width="8" height="20.78" fill="#ff5252"/>
<rect x="1069" y="1217.20" width="8" height="27.90" fill="#ff5252"/>
<rect x="1078" y="1217.20" width="8" height="26.04" fill="#ffcdd2"/>
<rect x="1087" y="1217.20" width="8" height="26.79" fill="#ff5252"/>
<rect x="1096" y="1217.20" width="8" height="25.62" fill="#ffcdd2"/>
<rect x="1105" y="1217.20" width="8" height="20.69" fill="#ffcdd2"/>
<rect x="1114" y="1217.20" width="8" height="14.57" fill="#ffcdd2"/>
<rect x="1123" y="1217.20" width="8" height="24.67" fill="#ff5252"/>
<rect x="1132" y="1217.20" width="8" height="36.31" fill="#ff5252"/>
<rect x="1141" y="1217.20" width="8" height="38.16" fill="#ff5252"/>
<rect x="1150" y="1217.20" width="8" height="40.61" fill="#ff5252"/>
<rect x="1159" y="1217.20" width="8" height="40.56" fill="#ffcdd2"/>
<rect x="1168" y="1217.20" width="8" height="42.23" fill="#ff5252"/>
<rect x="1177" y="1217.20" width="8" height="40.09" fill="#ffcdd2"/>
<rect x="1186" y="1217.20" width="8" height="38.79" fill="#ffcdd2"/>
<rect x="1195" y="1217.20" width="8" height="38.80" fill="#ff5252"/>
<rect x="1204" y="1217.20" width="8" height="48.08" fill="#ff5252"/>
<rect x="1213" y="1217.20" width="8" height="61.56" fill="#ff5252"/>
<rect x="1222" y="1217.20" width="8" height="66.52" fill="#ff5252"/>
<rect x="1231" y="1217.20" width="8" height="65.94" fill="#ffcdd2"/>
<rect x="1240" y="1217.20" width="8" height="64.36" fill="#ffcdd2"/>
<rect x="1249" y="1217.20" width="8" height="57.03" fill="#ffcdd2"/>
<rect x="1258" y="1217.20" width="8" height="46.44" fill="#ffcdd2"/>
<rect x="1267" y="1217.20" width="8" height="37.94" fill="#ffcdd2"/>
<rect x="1276" y="1217.20" width="8" height="35.78" fill="#ffcdd2"/>
<rect x="1285" y="1217.20" width="8" height="32.58" fill="#ffcdd2"/>
<rect x="1294" y="1217.20" width="8" height="25.39" fill="#ffcdd2"/>
<rect x="1303" y="1217.20" width="8" height="21.62" fill="#ffcdd2"/>
<rect x="1312" y="1217.20" width="8" height="17.83" fill="#ffcdd2"/>
<rect x="1321" y="1217.20" width="8" height="13.48" fill="#ffcdd2"/>
<rect x="1330" y="1217.20" width="8" height="7.30" fill="#ffcdd2"/>
<rect x="1339" y="1215.26" width="8" height="1.94" fill="#26a69a"/>
<rect x="1348" y="1199.30" width="8" height="17.90" fill="#26a69a"/>
<rect x="1357" y="1185.95" width="8" height="31.25" fill="#26a69a"/>
<rect x="1366" y="1181.90" width="8" height="35.30" fill="#26a69a"/>
<rect x="1375" y="1179.48" width="8" height="37.72" fill="#26a69a"/>
<rect x="1384" y="1189.61" width="8" height="27.59" fill="#b2dfdb"/>
<rect x="1393" y="1198.68" width="8" height="18.52" fill="#b2dfdb"/>
<rect x="1402" y="1210.50" width="8" height="6.70" fill="#b2dfdb"/>
<rect x="1411" y="1214.84" width="8" height="2.36" fill="#b2dfdb"/>
<rect x="1420" y="1215.64" width="8" height="1.56" fill="#b2dfdb"/>
<rect x="1429" y="1217.20" width="8" height="1.10" fill="#ff5252"/>
<rect x="1438" y="1217.20" width="8" height="1.47" fill="#ff5252"/>
<rect x="1447" y="1213.34" width="8" height="3.86" fill="#26a69a"/>
<rect x="1456" y="1203.21" width="8" height="13.99" fill="#26a69a"/>
<rect x="1465" y="1199.74" width="8" height="17.46" fill="#26a69a"/>
<rect x="1474" y="1188.59" width="8" height="28.61" fill="#26a69a"/>
<rect x="1483" y="1187.82" width="8" height="29.38" fill="#26a69a"/>
<rect x="1492" y="1198.50" width="8" height="18.70" fill="#b2dfdb"/>
<rect x="1501" y="1207.24" width="8" height="9.96" fill="#b2dfdb"/>
<rect x="1510" y="1209.03" width="8" height="8.17" fill="#b2dfdb"/>
<rect x="1519" y="1213.03" width="8" height="4.17" fill="#b2dfdb"/>
<rect x="1528" y="1217.20" width="8" height="2.22" fill="#ff5252"/>
<rect x="1537" y="1217.20" width="8" height="6.11" fill="#ff5252"/>
<rect x="1546" y="1217.20" width="8" height="7.66" fill="#ff5252"/>
<rect x="1555" y="1217.20" width="8" height="12.75" fill="#ff5252"/>
<rect x="1564" y="1217.20" width="8" height="15.98" fill="#ff5252"/>
<rect x="1573" y="1217.20" width="8" height="21.15" fill="#ff5252"/>
<rect x="1582" y="1217.20" width="8" height="22.00" fill="#ff5252"/>
<rect x="1591" y="1217.20" width="8" height="19.46" fill="#ffcdd2"/>
<rect x="1600" y="1217.20" width="8" height="17.49" fill="#ffcdd2"/>
<rect x="1609" y="1217.20" width="8" height="20.51" fill="#ff5252"/>
<rect x="1618" y="1217.20" width="8" height="31.27" fill="#ff5252"/>
<rect x="1627" y="1217.20" width="8" height="31.94" fill="#ff5252"/>
<rect x="1636" y="1217.20" width="8" height="35.85" fill="#ff5252"/>
<rect x="1645" y="1217.20" width="8" height="37.94" fill="#ff5252"/>
<rect x="1654" y="1217.20" width="8" height="38.79" fill="#ff5252"/>
<rect x="1663" y="1217.20" width="8" height="37.21" fill="#ffcdd2"/>
<rect x="1672" y="1217.20" width="8" height="32.05" fill="#ffcdd2"/>
<rect x="1681" y="1217.20" width="8" height="27.42" fill="#ffcdd2"/>
<rect x="1690" y="1217.20" width="8" height="20.78" fill="#ffcdd2"/>
<rect x="1699" y="1217.20" width="8" height="15.25" fill="#ffcdd2"/>
<rect x="1708" y="1217.20" width="8" height="7.49" fill="#ffcdd2"/>
<rect x="1717" y="1217.20" width="8" height="1.83" fill="#ffcdd2"/>
<rect x="1726" y="1211.32" width="8" height="5.88" fill="#26a69a"/>
<rect x="1735" y="1206.53" width="8" height="10.67" fill="#26a69a"/>
<rect x="1744" y="1204.88" width="8" height="12.32" fill="#26a69a"/>
<rect x="1753" y="1205.43" width="8" height="11.77" fill="#b2dfdb"/>
<rect x="1762" y="1207.31" width="8" height="9.89" fill="#b2dfdb"/>
<rect x="1771" y="1207.45" width="8" height="9.75" fill="#b2dfdb"/>
<rect x="1780" y="1207.32" width="8" height="9.88" fill="#26a69a"/>
<rect x="1789" y="1210.80" width="8" height="6.40" fill="#b2dfdb"/>
<rect x="1798" y="1210.93" width="8" height="6.27" fill="#b2dfdb"/>
<rect x="1807" y="1211.54" width="8" height="5.66" fill="#b2dfdb"/>
<rect x="1816" y="1217.20" width="8" height="3.42" fill="#ff5252"/>
<rect x="1825" y="1217.20" width="8" height="7.53" fill="#ff5252"/>
<rect x="1834" y="1217.20" width="8" height="11.04" fill="#ff5252"/>
<rect x="1843" y="1217.20" width="8" height="11.19" fill="#ff5252"/>
<rect x="1852" y="1217.20" width="8" height="11.26" fill="#ff5252"/>
<rect x="1861" y="1217.20" width="8" height="8.81" fill="#ffcdd2"/>
<rect x="1870" y="1214.21" width="8" height="2.99" fill="#26a69a"/>
<rect x="1879" y="1216.86" width="8" height="0.80" fill="#b2dfdb"/>
<rect x="1888" y="1217.20" width="8" height="1.45" fill="#ff5252"/>
<rect x="1897" y="1216.15" width="8" height="1.05" fill="#26a69a"/>
<rect x="1906" y="1215.19" width="8" height="2.01" fill="#26a69a"/>
<rect x="1915" y="1214.67" width="8" height="2.53" fill="#26a69a"/>
<rect x="1924" y="1215.30" width="8" height="1.90" fill="#b2dfdb"/>
<rect x="1933" y="1217.20" width="8" height="4.85" fill="#ff5252"/>
<rect x="1942" y="1217.20" width="8" height="11.03" fill="#ff5252"/>
<rect x="1951" y="1217.20" width="8" height="10.92" fill="#ffcdd2"/>
<rect x="1960" y="1217.20" width="8" height="7.64" fill="#ffcdd2"/>
<rect x="1969" y="1217.20" width="8" height="6.16" fill="#ffcdd2"/>
<rect x="1978" y="1217.20" width="8" height="2.50" fill="#ffcdd2"/>
<rect x="1987" y="1214.56" width="8" height="2.64" fill="#26a69a"/>
<rect x="1996" y="1213.18" width="8" height="4.02" fill="#26a69a"/>
<rect x="2005" y="1210.41" width="8" height="6.79" fill="#26a69a"/>
<rect x="2014" y="1209.51" width="8" height="7.69" fill="#26a69a"/>
<rect x="2023" y="1206.09" width="8" height="11.11" fill="#26a69a"/>
<rect x="2032" y="1205.85" width="8" height="11.35" fill="#26a69a"/>
<rect x="2041" y="1206.15" width="8" height="11.05" fill="#b2dfdb"/>
<rect x="2050" y="1206.21" width="8" height="10.99" fill="#b2dfdb"/>
<rect x="2059" y="1204.77" width="8" height="12.43" fill="#26a69a"/>
<rect x="2068" y="1201.31" width="8" height="15.89" fill="#26a69a"/>
<rect x="2077" y="1197.38" width="8" height="19.82" fill="#26a69a"/>
<rect x="2086" y="1191.92" width="8" height="25.28" fill="#26a69a"/>
<line x1="0" y1="1217.5" x2="2184" y2="1217.5" stroke="#787b86" stroke-opacity="0.75" stroke-width="1" stroke-dasharray="4.7 6.25"/>
<polyline points="10.95,1227.64 19.95,1230.61 28.95,1232.92 37.95,1234.60 46.95,1236.03 55.95,1236.74 64.95,1237.02 73.95,1237.20 82.95,1237.41 91.95,1237.57 100.95,1237.51 109.95,1237.42 118.95,1237.19 127.95,1236.75 136.95,1235.93 145.95,1234.95 154.95,1233.39 163.95,1231.54 172.95,1229.75 181.95,1228.32 190.95,1227.58 199.95,1227.24 208.95,1227.09 217.95,1226.97 226.95,1226.89 235.95,1227.21 244.95,1227.48 253.95,1227.83 262.95,1228.11 271.95,1228.27 280.95,1228.71 289.95,1229.10 298.95,1229.35 307.95,1229.01 316.95,1228.34 325.95,1227.56 334.95,1226.65 343.95,1225.43 352.95,1224.13 361.95,1223.03 370.95,1222.28 379.95,1221.69 388.95,1221.05 397.95,1220.33 406.95,1219.55 415.95,1218.49 424.95,1217.53 433.95,1216.56 442.95,1215.56 451.95,1214.66 460.95,1213.26 469.95,1211.30 478.95,1208.84 487.95,1206.43 496.95,1204.83 505.95,1204.32 514.95,1204.68 523.95,1205.57 532.95,1206.51 541.95,1207.46 550.95,1208.24 559.95,1209.10 568.95,1210.05 577.95,1210.99 586.95,1211.99 595.95,1212.71 604.95,1213.17 613.95,1213.45 622.95,1213.30 631.95,1212.85 640.95,1211.72 649.95,1209.97 658.95,1207.49 667.95,1204.27 676.95,1200.90 685.95,1197.56 694.95,1194.69 703.95,1192.30 712.95,1190.30 721.95,1189.32 730.95,1188.75 739.95,1188.09 748.95,1186.38 757.95,1183.30 766.95,1180.04 775.95,1177.35 784.95,1175.40 793.95,1174.10 802.95,1173.87 811.95,1174.01 820.95,1173.71 829.95,1171.63 838.95,1168.81 847.95,1165.24 856.95,1160.46 865.95,1150.62 874.95,1134.66 883.95,1114.14 892.95,1090.78 901.95,1069.47 910.95,1049.69 919.95,1033.39 928.95,1020.35 937.95,1010.25 946.95,1001.74 955.95,995.95 964.95,992.15 973.95,988.66 982.95,984.97 991.95,981.89 1000.95,982.25 1009.95,985.64 1018.95,990.39 1027.95,996.23 1036.95,1001.38 1045.95,1006.64 1054.95,1010.97 1063.95,1015.94 1072.95,1022.69 1081.95,1028.98 1090.95,1035.45 1099.95,1041.63 1108.95,1046.57 1117.95,1049.99 1126.95,1055.94 1135.95,1064.79 1144.95,1074.10 1153.95,1084.03 1162.95,1093.94 1171.95,1104.28 1180.95,1114.07 1189.95,1123.54 1198.95,1133.02 1207.95,1144.82 1216.95,1159.98 1225.95,1176.38 1234.95,1192.64 1243.95,1208.51 1252.95,1222.54 1261.95,1233.92 1270.95,1243.18 1279.95,1251.90 1288.95,1259.82 1297.95,1265.95 1306.95,1271.13 1315.95,1275.36 1324.95,1278.51 1333.95,1280.11 1342.95,1279.62 1351.95,1275.14 1360.95,1267.33 1369.95,1258.51 1378.95,1249.08 1387.95,1242.18 1396.95,1237.55 1405.95,1235.87 1414.95,1235.28 1423.95,1234.89 1432.95,1234.94 1441.95,1235.08 1450.95,1234.12 1459.95,1230.62 1468.95,1226.26 1477.95,1219.11 1486.95,1211.76 1495.95,1207.09 1504.95,1204.60 1513.95,1202.55 1522.95,1201.51 1531.95,1201.84 1540.95,1203.14 1549.95,1204.83 1558.95,1207.79 1567.95,1211.56 1576.95,1216.63 1585.95,1221.90 1594.95,1226.54 1603.95,1230.69 1612.95,1235.59 1621.95,1243.18 1630.95,1250.94 1639.95,1259.68 1648.95,1268.94 1657.95,1278.41 1666.95,1287.49 1675.95,1295.28 1684.95,1301.91 1693.95,1306.88 1702.95,1310.46 1711.95,1312.11 1720.95,1312.34 1729.95,1310.87 1738.95,1308.20 1747.95,1305.12 1756.95,1302.18 1765.95,1299.71 1774.95,1297.27 1783.95,1294.80 1792.95,1293.20 1801.95,1291.63 1810.95,1290.22 1819.95,1290.85 1828.95,1292.50 1837.95,1295.04 1846.95,1297.61 1855.95,1300.20 1864.95,1302.17 1873.95,1301.43 1882.95,1301.34 1891.95,1301.48 1900.95,1301.22 1909.95,1300.71 1918.95,1300.08 1927.95,1299.61 1936.95,1300.59 1945.95,1303.13 1954.95,1305.63 1963.95,1307.32 1972.95,1308.63 1981.95,1309.03 1990.95,1308.37 1999.95,1307.37 2008.95,1305.67 2017.95,1303.75 2026.95,1300.97 2035.95,1298.13 2044.95,1295.37 2053.95,1292.62 2062.95,1289.51 2071.95,1285.54 2080.95,1280.59 2089.95,1274.27" fill="none" stroke="#ff6d00" stroke-width="1.55" stroke-linejoin="round"/>
<polyline points="10.95,1243.91 19.95,1242.47 28.95,1242.19 37.95,1241.30 46.95,1241.75 55.95,1239.60 64.95,1238.10 73.95,1237.93 82.95,1238.24 91.95,1238.24 100.95,1237.24 109.95,1237.06 118.95,1236.27 127.95,1234.97 136.95,1232.68 145.95,1231.04 154.95,1227.15 163.95,1224.13 172.95,1222.57 181.95,1222.62 190.95,1224.63 199.95,1225.85 208.95,1226.49 217.95,1226.52 226.95,1226.57 235.95,1228.47 244.95,1228.58 253.95,1229.23 262.95,1229.21 271.95,1228.92 280.95,1230.47 289.95,1230.64 298.95,1230.36 307.95,1227.64 316.95,1225.65 325.95,1224.46 334.95,1223.03 343.95,1220.52 352.95,1218.96 361.95,1218.60 370.95,1219.28 379.95,1219.34 388.95,1218.48 397.95,1217.44 406.95,1216.45 415.95,1214.26 424.95,1213.69 433.95,1212.69 442.95,1211.53 451.95,1211.07 460.95,1207.65 469.95,1203.49 478.95,1198.97 487.95,1196.79 496.95,1198.47 505.95,1202.27 514.95,1206.13 523.95,1209.10 532.95,1210.28 541.95,1211.24 550.95,1211.39 559.95,1212.52 568.95,1213.88 577.95,1214.74 586.95,1216.01 595.95,1215.57 604.95,1215.00 613.95,1214.58 622.95,1212.70 631.95,1211.03 640.95,1207.21 649.95,1202.99 658.95,1197.56 667.95,1191.39 676.95,1187.42 685.95,1184.22 694.95,1183.19 703.95,1182.76 712.95,1182.27 721.95,1185.41 730.95,1186.45 739.95,1185.47 748.95,1179.53 757.95,1170.96 766.95,1167.00 775.95,1166.59 784.95,1167.62 793.95,1168.88 802.95,1172.98 811.95,1174.57 820.95,1172.52 829.95,1163.27 838.95,1157.54 847.95,1150.94 856.95,1141.37 865.95,1111.26 874.95,1070.79 883.95,1032.07 892.95,997.36 901.95,984.23 910.95,970.59 919.95,968.18 928.95,968.19 937.95,969.85 946.95,967.71 955.95,972.79 964.95,976.95 973.95,974.69 982.95,970.24 991.95,969.57 1000.95,983.68 1009.95,999.18 1018.95,1009.43 1027.95,1019.55 1036.95,1022.00 1045.95,1027.67 1054.95,1028.30 1063.95,1035.82 1072.95,1049.70 1081.95,1054.11 1090.95,1061.33 1099.95,1066.34 1108.95,1066.37 1117.95,1063.66 1126.95,1079.71 1135.95,1100.19 1144.95,1111.36 1153.95,1123.73 1162.95,1133.60 1171.95,1145.61 1180.95,1153.26 1189.95,1161.43 1198.95,1170.92 1207.95,1192.00 1216.95,1220.63 1225.95,1242.00 1234.95,1257.68 1243.95,1271.96 1252.95,1278.67 1261.95,1279.46 1270.95,1280.22 1279.95,1286.79 1288.95,1291.50 1297.95,1290.44 1306.95,1291.84 1315.95,1292.29 1324.95,1291.09 1333.95,1286.50 1342.95,1277.68 1351.95,1257.24 1360.95,1236.08 1369.95,1223.20 1378.95,1211.36 1387.95,1214.59 1396.95,1219.02 1405.95,1229.17 1414.95,1232.93 1423.95,1233.33 1432.95,1235.14 1441.95,1235.65 1450.95,1230.26 1459.95,1216.64 1468.95,1208.80 1477.95,1190.50 1486.95,1182.38 1495.95,1188.39 1504.95,1194.64 1513.95,1194.38 1522.95,1197.34 1531.95,1203.16 1540.95,1208.35 1549.95,1211.59 1558.95,1219.64 1567.95,1226.64 1576.95,1236.87 1585.95,1243.00 1594.95,1245.10 1603.95,1247.27 1612.95,1255.19 1621.95,1273.55 1630.95,1281.99 1639.95,1294.63 1648.95,1305.98 1657.95,1316.30 1666.95,1323.80 1675.95,1326.42 1684.95,1328.42 1693.95,1326.75 1702.95,1324.81 1711.95,1318.70 1720.95,1313.27 1729.95,1304.99 1738.95,1297.54 1747.95,1292.80 1756.95,1290.41 1765.95,1289.82 1774.95,1287.52 1783.95,1284.92 1792.95,1286.80 1801.95,1285.36 1810.95,1284.56 1819.95,1293.36 1828.95,1299.13 1837.95,1305.17 1846.95,1307.89 1855.95,1310.56 1864.95,1310.08 1873.95,1298.44 1882.95,1301.00 1891.95,1302.03 1900.95,1300.16 1909.95,1298.70 1918.95,1297.55 1927.95,1297.70 1936.95,1304.55 1945.95,1313.26 1954.95,1315.65 1963.95,1314.06 1972.95,1313.89 1981.95,1310.63 1990.95,1305.73 1999.95,1303.34 2008.95,1298.88 2017.95,1296.06 2026.95,1289.86 2035.95,1286.78 2044.95,1284.32 2053.95,1281.63 2062.95,1277.08 2071.95,1269.66 2080.95,1260.77 2089.95,1248.99" fill="none" stroke="#2962ff" stroke-width="1.55" stroke-linejoin="round"/>
</g>
<text x="2198.00" y="70.90" font-size="18.5" fill="#131722" textLength="62.50" lengthAdjust="spacingAndGlyphs" stroke="#131722" stroke-width="0.25">0.50000</text>
<text x="2198.00" y="167.90" font-size="18.5" fill="#131722" textLength="62.50" lengthAdjust="spacingAndGlyphs" stroke="#131722" stroke-width="0.25">0.45000</text>
<text x="2198.00" y="263.90" font-size="18.5" fill="#131722" textLength="62.50" lengthAdjust="spacingAndGlyphs" stroke="#131722" stroke-width="0.25">0.40000</text>
<text x="2198.00" y="360.90" font-size="18.5" fill="#131722" textLength="62.50" lengthAdjust="spacingAndGlyphs" stroke="#131722" stroke-width="0.25">0.35000</text>
<text x="2198.00" y="456.90" font-size="18.5" fill="#131722" textLength="62.50" lengthAdjust="spacingAndGlyphs" stroke="#131722" stroke-width="0.25">0.30000</text>
<text x="2198.00" y="553.90" font-size="18.5" fill="#131722" textLength="62.50" lengthAdjust="spacingAndGlyphs" stroke="#131722" stroke-width="0.25">0.25000</text>
<text x="2198.00" y="746.90" font-size="18.5" fill="#131722" textLength="62.50" lengthAdjust="spacingAndGlyphs" stroke="#131722" stroke-width="0.25">0.15000</text>
<text x="2198.00" y="843.90" font-size="18.5" fill="#131722" textLength="62.50" lengthAdjust="spacingAndGlyphs" stroke="#131722" stroke-width="0.25">0.10000</text>
<text x="2198.00" y="987.90" font-size="18.5" fill="#131722" textLength="62.50" lengthAdjust="spacingAndGlyphs" stroke="#131722" stroke-width="0.25">0.06000</text>
<text x="2198.00" y="1066.90" font-size="18.5" fill="#131722" textLength="62.50" lengthAdjust="spacingAndGlyphs" stroke="#131722" stroke-width="0.25">0.04000</text>
<text x="2198.00" y="1145.90" font-size="18.5" fill="#131722" textLength="62.50" lengthAdjust="spacingAndGlyphs" stroke="#131722" stroke-width="0.25">0.02000</text>
<text x="2198.90" y="1302.90" font-size="18.5" fill="#131722" textLength="71.10" lengthAdjust="spacingAndGlyphs" stroke="#131722" stroke-width="0.25">−0.02000</text>
<text x="2198.90" y="1223.60" font-size="18.5" fill="#131722" textLength="71.10" lengthAdjust="spacingAndGlyphs" stroke="#131722" stroke-width="0.25">−0.00000</text>
<text x="221.60" y="1392.90" font-size="18.5" fill="#131722" textLength="27.90" lengthAdjust="spacingAndGlyphs" stroke="#131722" stroke-width="0.25">Sep</text>
<text x="491.50" y="1392.90" font-size="18.5" fill="#131722" textLength="27.90" lengthAdjust="spacingAndGlyphs" stroke="#131722" stroke-width="0.25">Oct</text>
<text x="770.80" y="1392.90" font-size="18.5" fill="#131722" textLength="28.70" lengthAdjust="spacingAndGlyphs" stroke="#131722" stroke-width="0.25">Nov</text>
<text x="1040.00" y="1392.90" font-size="18.5" fill="#131722" textLength="29.20" lengthAdjust="spacingAndGlyphs" stroke="#131722" stroke-width="0.25">Dec</text>
<text x="1598.50" y="1392.90" font-size="18.5" fill="#131722" textLength="28.40" lengthAdjust="spacingAndGlyphs" stroke="#131722" stroke-width="0.25">Feb</text>
<text x="1850.10" y="1392.90" font-size="18.5" fill="#131722" textLength="28.70" lengthAdjust="spacingAndGlyphs" stroke="#131722" stroke-width="0.25">Mar</text>
<text x="2130.00" y="1392.90" font-size="18.5" fill="#131722" textLength="27.00" lengthAdjust="spacingAndGlyphs" stroke="#131722" stroke-width="0.25">Apr</text>
<text x="1313.90" y="1392.90" font-size="18.5" fill="#131722" textLength="40.00" lengthAdjust="spacingAndGlyphs" stroke="#131722" stroke-width="0.75">2025</text>
<path d="M2185 621.1 H2272.4 A2.6 2.6 0 0 1 2275 623.7 V666.3 A2.6 2.6 0 0 1 2272.4 668.9 H2185 Z" fill="#4580e8"/>
<text x="2197.80" y="641.10" font-size="18.5" fill="#fff" font-weight="bold" textLength="62.60" lengthAdjust="spacingAndGlyphs">0.20483</text>
<text x="2198.90" y="661.90" font-size="18.5" fill="#d4e1fa" font-weight="bold" textLength="66.30" lengthAdjust="spacingAndGlyphs">12:31:51</text>
<path d="M2185 896 H2272.4 A2.6 2.6 0 0 1 2275 898.6 V920.4 A2.6 2.6 0 0 1 2272.4 923 H2185 Z" fill="#26a69a"/>
<text x="2197.70" y="915.50" font-size="18.5" fill="#fff" font-weight="bold" textLength="70.30" lengthAdjust="spacingAndGlyphs">970.76 M</text>
<path d="M2185 1178.9 H2266.1 A2.6 2.6 0 0 1 2268.7 1181.5 V1203.2 A2.6 2.6 0 0 1 2266.1 1205.8 H2185 Z" fill="#26a69a"/>
<text x="2198.10" y="1198.80" font-size="18.5" fill="#fff" font-weight="bold" textLength="62.80" lengthAdjust="spacingAndGlyphs">0.00644</text>
<path d="M2185 1236.2 H2275.2000000000003 A2.6 2.6 0 0 1 2277.8 1238.8 V1261.1 H2185 Z" fill="#2962ff"/>
<text x="2198.90" y="1255.50" font-size="18.5" fill="#fff" font-weight="bold" textLength="69.70" lengthAdjust="spacingAndGlyphs">−0.00801</text>
<path d="M2185 1261.1 H2277.8 V1285.0 A2.6 2.6 0 0 1 2275.2000000000003 1287.6 H2185 Z" fill="#ff6d00"/>
<text x="2198.90" y="1280.60" font-size="18.5" fill="#fff" font-weight="bold" textLength="71.10" lengthAdjust="spacingAndGlyphs">−0.01445</text>
<text x="15.30" y="29.20" font-size="18.5" fill="#131722" textLength="576.40" lengthAdjust="spacingAndGlyphs" stroke="#131722" stroke-width="0.25">scottmatherson published on TradingView.com, Mar 26, 2025 11:28 UTC</text>
<text x="27.80" y="69.95" font-size="18.5" fill="#131722" textLength="288.60" lengthAdjust="spacingAndGlyphs" stroke="#131722" stroke-width="0.25">Dogecoin / TetherUS · 1D · BINANCE</text>
<text x="328.00" y="69.95" font-size="18.5" fill="#4580e8" textLength="62.30" lengthAdjust="spacingAndGlyphs" stroke="#4580e8" stroke-width="0.25">0.20483</text>
<text x="402.20" y="69.95" font-size="18.5" fill="#4580e8" textLength="70.80" lengthAdjust="spacingAndGlyphs" stroke="#4580e8" stroke-width="0.25">+0.01421</text>
<text x="481.30" y="69.95" font-size="18.5" fill="#4580e8" textLength="66.30" lengthAdjust="spacingAndGlyphs" stroke="#4580e8" stroke-width="0.25">(+7.45%)</text>
<text x="27.80" y="95.80" font-size="18.5" fill="#131722" textLength="84.80" lengthAdjust="spacingAndGlyphs" stroke="#131722" stroke-width="0.25">Vol · DOGE</text>
<text x="124.70" y="95.80" font-size="18.5" fill="#26a69a" textLength="69.10" lengthAdjust="spacingAndGlyphs" stroke="#26a69a" stroke-width="0.25">970.76 M</text>
<text x="27.40" y="953.00" font-size="18.5" fill="#131722" textLength="165.20" lengthAdjust="spacingAndGlyphs" stroke="#131722" stroke-width="0.25">MACD (12, 26, close)</text>
<text x="204.40" y="953.00" font-size="18.5" fill="#26a69a" textLength="63.10" lengthAdjust="spacingAndGlyphs" stroke="#26a69a" stroke-width="0.25">0.00644</text>
<text x="278.70" y="953.00" font-size="18.5" fill="#2962ff" textLength="70.40" lengthAdjust="spacingAndGlyphs" stroke="#2962ff" stroke-width="0.25">−0.00801</text>
<text x="362.80" y="953.00" font-size="18.5" fill="#ff6d00" textLength="71.40" lengthAdjust="spacingAndGlyphs" stroke="#ff6d00" stroke-width="0.25">−0.01445</text>
<!-- lightning icon -->
<g>
<circle cx="2090.4" cy="903.5" r="17.2" fill="#fff"/>
<circle cx="2090.4" cy="903.5" r="14.9" fill="#fff" stroke="#9618ad" stroke-width="1.9"/>
<circle cx="2100.7" cy="893" r="6.2" fill="#fff"/>
<circle cx="2100.7" cy="893" r="3.8" fill="#f23645"/>
<polyline points="2094.35,896.5 2085.9,903.8 2095.6,902.9 2086.0,911.0" fill="none" stroke="#9618ad" stroke-width="2.3" stroke-linejoin="miter" stroke-linecap="round"/>
</g>
<!-- logo -->
<g fill="#131722">
<path d="M14.9 1425.1 H26.7 V1439.7 H20.8 V1430.9 H14.9 Z"/>
<circle cx="31.6" cy="1428.6" r="3.1"/>
<path d="M36.1 1425.2 H44.1 L38.5 1439.7 H32.1 Z"/>
</g>
<text x="50.00" y="1440.70" font-size="20.2" fill="#131722" textLength="105.30" lengthAdjust="spacingAndGlyphs">TradingView</text>
</svg>
</body></html>
